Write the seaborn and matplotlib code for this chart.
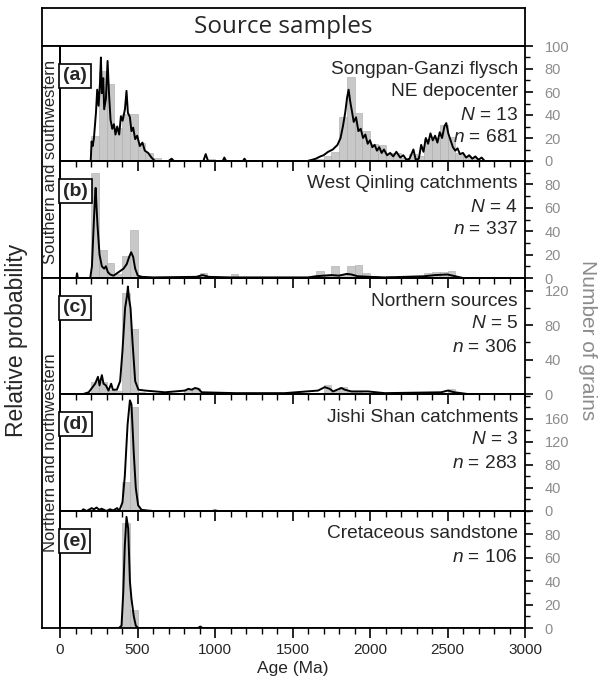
import numpy as np
import pandas as pd
import matplotlib.pyplot as plt
import seaborn as sns
from matplotlib.ticker import MultipleLocator, FixedLocator

# ---- histogram bins (start of 50 Ma bin) and grain counts ----
bins_a = [200, 250, 300, 350, 400, 450, 500, 550, 600, 650, 900, 950, 1050, 1200,
          1550, 1600, 1650, 1700, 1750, 1800, 1850, 1900, 1950, 2000, 2050, 2100,
          2150, 2200, 2250, 2300, 2350, 2400, 2450, 2500, 2550, 2600, 2650, 2700]
cnt_a = [22, 78, 67, 29, 41, 41, 16, 7, 3, 1, 1, 2, 1, 1,
         1, 2, 2, 4, 8, 38, 73, 42, 26, 15, 14, 7,
         7, 3, 6, 4, 19, 20, 31, 21, 7, 4, 3, 1]

bins_b = [200, 250, 300, 350, 400, 450, 500, 900, 950, 1100, 1650, 1700, 1750, 1800,
          1850, 1900, 1950, 2000, 2100, 2200, 2350, 2400, 2450, 2500]
cnt_b = [90, 24, 13, 3, 19, 41, 2, 4, 1, 3, 6, 2, 10, 3,
         10, 11, 4, 2, 2, 2, 4, 5, 5, 6]

bins_c = [200, 250, 300, 350, 400, 450, 500, 800, 850, 1700, 1750, 1800, 1850, 1900, 2500]
cnt_c = [14, 14, 5, 4, 117, 76, 2, 6, 7, 10, 4, 8, 3, 4, 6]

bins_d = [400, 450, 500]
cnt_d = [50, 180, 4]

bins_e = [400, 450]
cnt_e = [90, 15]

# ---- probability density curves (age, value on grain scale) ----
age_a = [0, 150, 198, 204, 211, 219, 232, 240, 249, 258, 264, 270, 279, 285, 296, 307,
         316, 326, 337, 348, 358, 369, 382, 393, 404, 419, 429, 438, 451, 461, 472, 485,
         498, 515, 532, 547, 569, 590, 612, 700, 720, 735, 925, 940, 955, 1050, 1060,
         1072, 1180, 1190, 1200, 1600, 1650, 1680, 1700, 1730, 1760, 1790, 1810, 1825,
         1840, 1852, 1862, 1872, 1885, 1895, 1910, 1925, 1940, 1955, 1970, 1985, 2000,
         2015, 2030, 2045, 2060, 2075, 2090, 2110, 2130, 2150, 2170, 2195, 2215, 2235,
         2255, 2280, 2295, 2315, 2330, 2345, 2360, 2375, 2390, 2405, 2420, 2435, 2450,
         2465, 2480, 2492, 2505, 2520, 2535, 2550, 2565, 2580, 2600, 2620, 2640, 2660,
         2680, 2700, 2720, 2740, 3000]
pdp_a = [0, 0, 0, 17, 13, 20, 42, 62, 48, 68, 90, 59, 72, 45, 54, 87,
         59, 36, 28, 32, 23, 30, 23, 39, 35, 45, 61, 42, 38, 26, 29, 19,
         22, 13, 16, 9, 7, 3, 0, 0, 2, 0, 0, 6, 0, 0, 3,
         0, 0, 2, 0, 0, 2, 4, 5, 8, 10, 14, 20, 30,
         42, 55, 62, 52, 42, 34, 38, 26, 28, 20, 23, 15, 18,
         12, 14, 9, 12, 7, 10, 5, 7, 4, 8, 3, 5, 1,
         2, 10, 1, 2, 14, 8, 20, 15, 24, 18, 22, 16, 25,
         20, 30, 33, 24, 18, 12, 9, 11, 6, 7, 3, 5, 2,
         4, 1, 3, 0, 0]

age_b = [0, 105, 110, 115, 195, 206, 219, 226, 230, 236, 242, 255, 270, 285, 296, 309,
         324, 345, 378, 410, 431, 446, 459, 472, 485, 502, 528, 600, 880, 920, 960, 1100,
         1600, 1650, 1700, 1750, 1800, 1850, 1880, 1920, 2000, 2100, 2350, 2420, 2500,
         2550, 2600, 3000]
pdp_b = [0, 0, 4, 0, 0, 10, 50, 70, 77, 60, 45, 20, 10, 8, 10, 5,
         3, 2, 5, 8, 12, 18, 22, 18, 8, 2, 1, 0.5, 1, 2.5, 1, 0.5,
         0.5, 1.5, 2, 2.5, 2, 3.5, 3, 1.5, 1, 0.5, 1.5, 2.5, 3,
         1.5, 0, 0]

age_c = [0, 150, 185, 227, 245, 255, 270, 281, 296, 313, 330, 341, 367, 388, 403, 420,
         433, 438, 446, 455, 468, 485, 506, 549, 678, 807, 828, 850, 871, 893, 914, 1129,
         1450, 1665, 1708, 1740, 1762, 1816, 1837, 1880, 1987, 2094, 2459, 2502, 2545,
         2630, 3000]
pdp_c = [0, 0, 2, 12, 20, 10, 22, 12, 10, 4, 12, 5, 5, 15, 50, 100,
         115, 125, 110, 100, 60, 15, 5, 4, 2, 4, 6, 5, 7, 6, 2, 1,
         1, 4, 8, 6, 3, 7, 5, 3, 3, 1, 2, 4, 2,
         0, 0]

age_d = [0, 140, 150, 172, 204, 219, 236, 253, 268, 300, 322, 343, 369, 382, 403, 418,
         436, 451, 461, 476, 489, 504, 526, 558, 601, 980, 1000, 1020, 3000]
pdp_d = [0, 0, 3, 0, 5, 3, 6, 2, 4, 0, 3, 1, 5, 0, 15, 60,
         150, 192, 185, 100, 40, 10, 2, 1, 0, 0, 1, 0, 0]

age_e = [0, 380, 397, 408, 418, 429, 440, 451, 461, 476, 489, 504, 890, 905, 920, 3000]
pdp_e = [0, 0, 2, 30, 70, 95, 85, 40, 25, 10, 2, 0, 0, 1.2, 0, 0]

titles = [["Songpan-Ganzi flysch", "NE depocenter", "$N$ = 13", "$n$ = 681"],
          ["West Qinling catchments", "$N$ = 4", "$n$ = 337"],
          ["Northern sources", "$N$ = 5", "$n$ = 306"],
          ["Jishi Shan catchments", "$N$ = 3", "$n$ = 283"],
          ["Cretaceous sandstone", "$n$ = 106"]]
letters = ["(a)", "(b)", "(c)", "(d)", "(e)"]
ylims = [100, 100, 135, 203, 100]
major_y = [[0, 20, 40, 60, 80, 100], [0, 20, 40, 60, 80], [0, 40, 80, 120],
           [0, 40, 80, 120, 160], [0, 20, 40, 60, 80]]
minor_y = [10, 10, 20, 20, 10]

sns.set_theme(style="white")
plt.rcParams['font.family'] = ['Liberation Sans', 'DejaVu Sans']
plt.rcParams['mathtext.fontset'] = 'custom'
plt.rcParams['mathtext.rm'] = 'Liberation Sans'
plt.rcParams['mathtext.it'] = 'Liberation Sans:italic'

W, H = 601, 691
fig = plt.figure(figsize=(W / 100, H / 100), dpi=100)

def rect(x0, y0, x1, y1):
    return [x0 / W, 1 - y1 / H, (x1 - x0) / W, (y1 - y0) / H]

GRAY_BAR = '#c8c8c8'
GRAY_TXT = '#8c8c8c'
LW = 1.3

# header
axh = fig.add_axes(rect(42, 8, 525, 46))
axh.set_xticks([]); axh.set_yticks([])
axh.text(0.5, 0.5, "Source samples", ha='center', va='center', fontsize=17.5,
         family=['Open Sans', 'DejaVu Sans'])

# left group columns
for (y0, y1, txt) in [(46, 278, "Southern and southwestern"),
                      (278, 628, "Northern and northwestern")]:
    axg = fig.add_axes(rect(42, y0, 60, y1))
    axg.set_xticks([]); axg.set_yticks([])
    axg.text(0.5, 0.5, txt, rotation=90, ha='center', va='center', fontsize=12)
    for s in axg.spines.values():
        s.set_linewidth(LW); s.set_color('black')
for s in axh.spines.values():
    s.set_linewidth(LW); s.set_color('black')

tops = [46, 161, 278, 394, 511]
bots = [161, 278, 394, 511, 628]
bins_all = [bins_a, bins_b, bins_c, bins_d, bins_e]
cnt_all = [cnt_a, cnt_b, cnt_c, cnt_d, cnt_e]
age_all = [age_a, age_b, age_c, age_d, age_e]
pdp_all = [pdp_a, pdp_b, pdp_c, pdp_d, pdp_e]

for i in range(5):
    ax = fig.add_axes(rect(60, tops[i], 525, bots[i]))
    ax.set_facecolor('none')
    hist_df = pd.DataFrame({'age': np.array(bins_all[i]) + 25, 'n': cnt_all[i]})
    sns.histplot(data=hist_df, x='age', weights='n', binwidth=50, binrange=(0, 3000),
                 color=GRAY_BAR, edgecolor='#a9a9a9', linewidth=0.4, alpha=1, ax=ax)
    line_df = pd.DataFrame({'age': age_all[i], 'p': pdp_all[i]})
    sns.lineplot(data=line_df, x='age', y='p', color='black', linewidth=1.4,
                 estimator=None, sort=False, ax=ax, zorder=3)
    ax.set_xlim(0, 3000)
    ax.set_ylim(0, ylims[i])
    ax.set_xlabel(''); ax.set_ylabel('')
    for s in ax.spines.values():
        s.set_linewidth(LW); s.set_color('black')

    # x ticks pointing down
    ax.xaxis.set_major_locator(MultipleLocator(500))
    ax.xaxis.set_minor_locator(MultipleLocator(100))
    ax.tick_params(axis='x', which='major', direction='out', length=7, width=1.2,
                   color='black', bottom=True, labelsize=11, pad=4)
    ax.tick_params(axis='x', which='minor', direction='out', length=4.5, width=1.0,
                   color='black', bottom=True)
    if i < 4:
        ax.tick_params(axis='x', labelbottom=False)

    # right-hand count axis
    ax.yaxis.tick_right()
    ax.yaxis.set_major_locator(FixedLocator(major_y[i]))
    ax.yaxis.set_minor_locator(MultipleLocator(minor_y[i]))
    ax.tick_params(axis='y', which='major', direction='out', length=6, width=1.2,
                   color='black', labelcolor=GRAY_TXT, labelsize=10.5, pad=8, right=True)
    ax.tick_params(axis='y', which='minor', direction='out', length=3.5, width=1.0,
                   color='black', right=True)
    ax.tick_params(axis='y', left=False)

    # panel letter in a box
    h = bots[i] - tops[i]
    ax.text(0.006, 1 - 30 / h, letters[i], transform=ax.transAxes, ha='left', va='center',
            fontsize=14, fontweight='bold',
            bbox=dict(boxstyle='square,pad=0.2', facecolor='white', edgecolor='black',
                      linewidth=1.2))

    # sample description
    for k, line in enumerate(titles[i]):
        ax.text(0.985, 1 - (23 + 23 * k) / h, line, transform=ax.transAxes,
                ha='right', va='center', fontsize=13.8)

    if i == 4:
        ax.set_xlabel("Age (Ma)", fontsize=12.5, labelpad=3)

fig.text(17 / W, 1 - 340 / H, "Relative probability", rotation=90, ha='center',
         va='center', fontsize=16.5)
fig.text(588 / W, 1 - 340 / H, "Number of grains", rotation=-90, ha='center',
         va='center', fontsize=15, color=GRAY_TXT)

fig.savefig("out.png", dpi=100)
